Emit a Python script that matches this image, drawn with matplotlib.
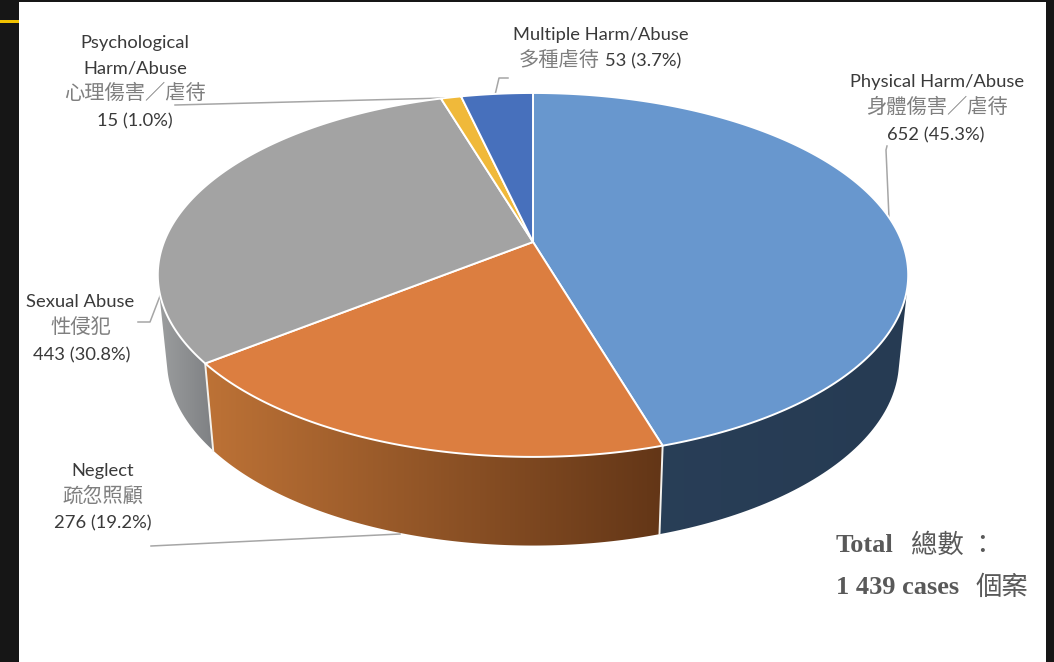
import numpy as np
import matplotlib
matplotlib.use("Agg")
import matplotlib.pyplot as plt
from matplotlib.colors import LinearSegmentedColormap
from matplotlib.patches import Polygon, Rectangle

# slices run clockwise from 12 o'clock
names_en = ["Physical Harm/Abuse", "Neglect", "Sexual Abuse", "Psychological\nHarm/Abuse", "Multiple Harm/Abuse"]
names_zh = ["身體傷害／虐待", "疏忽照顧", "性侵犯", "心理傷害／虐待", "多種虐待"]
cases = [652, 276, 443, 15, 53]
pct_labels = ["652 (45.3%)", "276 (19.2%)", "443 (30.8%)", "15 (1.0%)", "53 (3.7%)"]
total_lines = ["Total", "1 439 cases"]
total_lines_zh = ["總數 ：", "個案"]

top_colors = ["#6897CE", "#DC7E40", "#A3A3A3", "#F0B93A", "#4770BC"]
side_left = ["#2A4059", "#BD7236", "#9C9E9F", "#A07C28", "#2F4A7E"]
side_right = ["#263B53", "#633617", "#7D7F82", "#A07C28", "#2F4A7E"]

LATIN = ["Lato", "Noto Sans CJK TC", "DejaVu Sans"]
CJK = ["Noto Sans CJK TC", "DejaVu Sans"]
DARK = "#3A3A3A"
ZH_GREY = "#7F7F7F"
LEADER = "#A6A6A6"

# perspective ellipse, numbers fitted in pixels
CX = 533
TOP_Y, TOP_A, TOP_B = 242, 176, 369
BOT_Y, BOT_A, BOT_B = 327, 179, 360
K = 0.181


def project(theta, y0, a, b):
    u = np.sin(theta)
    v = np.cos(theta)
    d = 1 + K * v
    return CX + b * u / d, y0 - a * v / d


def hull(points):
    # monotone chain, the wall silhouette runs straight from top rim to bottom rim
    pts = sorted(map(tuple, points))

    def half(seq):
        out = []
        for p in seq:
            while len(out) > 1 and ((out[-1][0] - out[-2][0]) * (p[1] - out[-2][1])
                                    - (out[-1][1] - out[-2][1]) * (p[0] - out[-2][0])) <= 0:
                out.pop()
            out.append(p)
        return out[:-1]

    return np.array(half(pts) + half(pts[::-1]))


def label(x, y, s, zh=False):
    if zh:
        ax.text(x, y, s, ha="center", va="center", fontsize=14.6, color=ZH_GREY, family=CJK, fontweight="light")
    else:
        ax.text(x, y, s, ha="center", va="center", fontsize=13.2, color=DARK, family=LATIN)


fig = plt.figure(figsize=(10.54, 6.62), dpi=100, facecolor="#161616")
ax = fig.add_axes([0, 0, 1, 1])
ax.set_xlim(0, 1054)
ax.set_ylim(662, 0)
ax.axis("off")

ax.add_patch(Rectangle((19, 2), 1027, 662, fc="white", ec="none", zorder=0))
ax.add_patch(Rectangle((0, 19.5), 19, 3.5, fc="#F2C200", ec="none", zorder=0))

edges = np.cumsum([0] + cases) / sum(cases) * 2 * np.pi

# leader lines sit under the pie
leaders = [
    ([887, 886, 889], [146, 150, 218]),
    ([151, 400], [546, 534]),
    ([138, 150, 160], [322, 322, 296]),
    ([175, 445], [105, 98]),
    ([508, 499, 495], [78, 78, 95]),
]
for xs, ys in leaders:
    ax.plot(xs, ys, color=LEADER, lw=1.1, zorder=1)

# sides first, the top faces cover whatever is hidden. neglect goes last,
# it has to sit over the hulls of its two neighbours
for n, i in enumerate([0, 2, 3, 4, 1]):
    th = np.linspace(edges[i], edges[i + 1], 160)
    xt, yt = project(th, TOP_Y, TOP_A, TOP_B)
    xb, yb = project(th, BOT_Y, BOT_A, BOT_B)
    pts = hull(np.r_[np.c_[xt, yt], np.c_[xb, yb]])
    poly = Polygon(pts, closed=True, fc="none", ec="none", zorder=2 + n * 0.01)
    ax.add_patch(poly)
    cmap = LinearSegmentedColormap.from_list("s", [side_left[i], side_right[i]])
    x0, x1 = pts[:, 0].min(), pts[:, 0].max()
    if i == 2:
        x1 = 215  # gray wall only shows at the far left
    im = ax.imshow(np.linspace(0, 1, 256).reshape(1, -1), cmap=cmap, aspect="auto",
                   extent=(x0, x1, pts[:, 1].max(), pts[:, 1].min()), zorder=2 + n * 0.01)
    im.set_clip_path(poly)
ax.set_xlim(0, 1054)
ax.set_ylim(662, 0)

# white seams on the visible side walls
for e in edges[1:3]:
    xa, ya = project(e, TOP_Y, TOP_A, TOP_B)
    xc, yc = project(e, BOT_Y, BOT_A, BOT_B)
    ax.plot([xa, xc], [ya, yc], color="#F4F1EC", lw=1.4, zorder=3)

# top faces
for i in range(len(cases)):
    th = np.linspace(edges[i], edges[i + 1], 200)
    x, y = project(th, TOP_Y, TOP_A, TOP_B)
    pts = np.r_[[[CX, TOP_Y]], np.c_[x, y]]
    ax.add_patch(Polygon(pts, closed=True, fc=top_colors[i], ec="white", lw=1.4,
                         joinstyle="round", zorder=4))

# Physical
label(937, 82, names_en[0])
label(937, 107, names_zh[0], zh=True)
label(936, 135, pct_labels[0])
# Neglect
label(103, 471, names_en[1])
label(103, 496, names_zh[1], zh=True)
label(103, 523, pct_labels[1])
# Sexual
label(80, 302, names_en[2])
label(81, 327, names_zh[2], zh=True)
label(82, 355, pct_labels[2])
# Psychological
first, second = names_en[3].split("\n")
label(135, 43, first)
label(135, 68, second)
label(135, 93, names_zh[3], zh=True)
label(135, 121, pct_labels[3])
# Multiple
label(601, 35, names_en[4])
label(559, 60, names_zh[4], zh=True)
label(643, 61, pct_labels[4])

# total note
ax.text(836, 545, total_lines[0], ha="left", va="center", fontsize=19, fontweight="bold", color="#595959", family="Liberation Serif")
ax.text(911, 545, total_lines_zh[0], ha="left", va="center", fontsize=19, color="#595959", family=CJK, fontweight="medium")
ax.text(836, 588, total_lines[1], ha="left", va="center", fontsize=19, fontweight="bold", color="#595959", family="Liberation Serif")
ax.text(976, 587, total_lines_zh[1], ha="left", va="center", fontsize=19, color="#595959", family=CJK, fontweight="medium")

fig.savefig("out.png", dpi=100, facecolor=fig.get_facecolor())
